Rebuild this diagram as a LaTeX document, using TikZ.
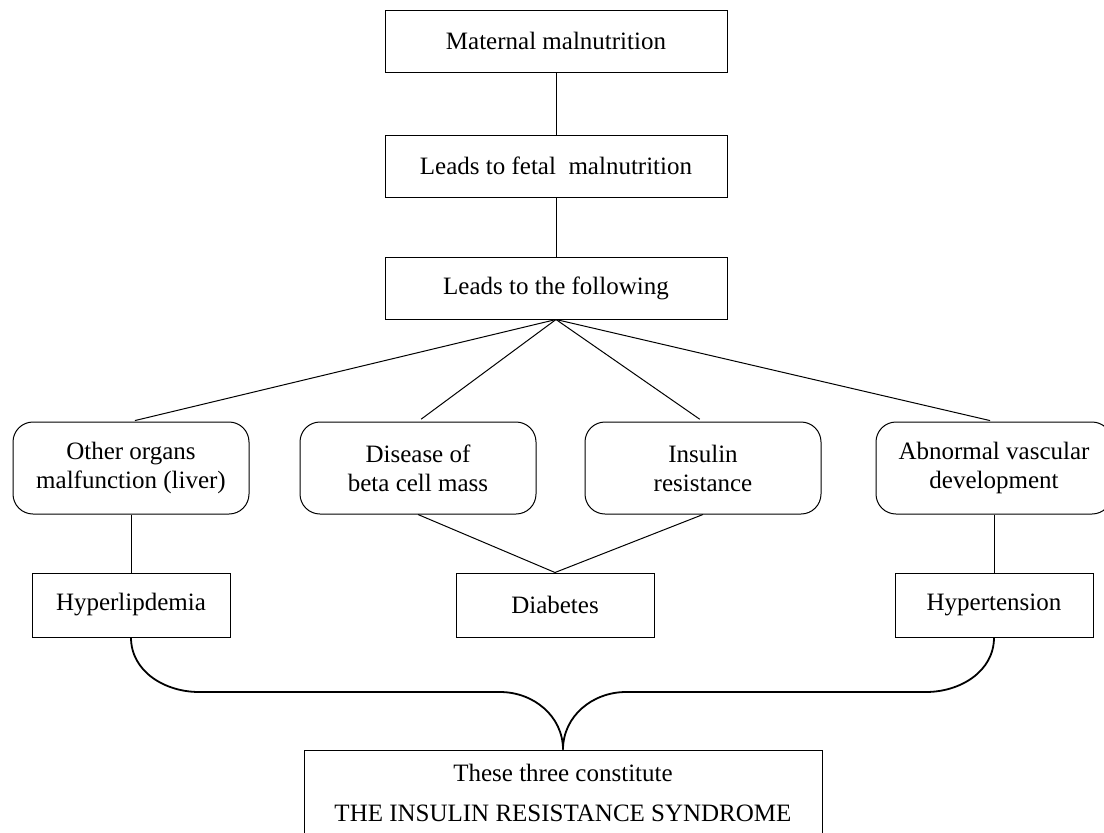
\documentclass[tikz,border=0pt]{standalone}
\usepackage{fontspec}
\setmainfont{Liberation Serif}
\begin{document}
\begin{tikzpicture}[x=1pt, y=-1pt,
    caixa/.style={draw, line width=1pt, minimum width=342pt, minimum height=62pt,
      inner sep=0pt, align=center, font=\fontsize{25}{29}\selectfont},
    arred/.style={caixa, rounded corners=20pt, minimum width=236pt, minimum height=92pt},
    efeito/.style={caixa, minimum width=198pt, minimum height=64pt},
    liga/.style={line width=1pt},
    chave/.style={line width=1.8pt}]
  \useasboundingbox (0,0) rectangle (1104,833);
  \clip (0,0) rectangle (1104,833);

  % Caixas
  \node[caixa] (mat) at (556,41) {Maternal malnutrition};
  \node[caixa] (fetal) at (556,166) {Leads to fetal\ \ malnutrition};
  \node[caixa] (follow) at (556,288) {Leads to the following};

  \node[arred] (other) at (131,468) {Other organs\\malfunction (liver)};
  \node[arred] (disease) at (418,468) {Disease of\\beta cell mass};
  \node[arred] (insulin) at (703,468) {Insulin\\resistance};
  \node[arred] (abnormal) at (994,468) {Abnormal vascular\\development};

  \node[efeito] (hyperlip) at (131,605) {Hyperlipdemia};
  \node[efeito] (diabetes) at (555,605) {Diabetes};
  \node[efeito] (hypert) at (994,605) {Hypertension};

  \node[caixa, minimum width=518pt, minimum height=86pt, font=\fontsize{25}{40}\selectfont]
    (syndrome) at (563,793) {These three constitute\\THE INSULIN RESISTANCE SYNDROME};

  % Pontos da chave
  \coordinate (bl) at (199,692);
  \coordinate (ml) at (500,692);
  \coordinate (mr) at (626,692);
  \coordinate (br) at (926,692);

  % Ligações
  \draw[liga] (mat) -- (fetal);
  \draw[liga] (fetal) -- (follow);
  \draw[liga, shorten >=4pt] (follow.south) -- (other.north);
  \draw[liga, shorten >=4pt] (follow.south) -- (disease.north);
  \draw[liga, shorten >=4pt] (follow.south) -- (insulin.north);
  \draw[liga, shorten >=4pt] (follow.south) -- (abnormal.north);
  \draw[liga] (other) -- (hyperlip);
  \draw[liga] (disease.south) -- (diabetes.north);
  \draw[liga] (insulin.south) -- (diabetes.north);
  \draw[liga] (abnormal) -- (hypert);

  % Chave
  \draw[chave] (hyperlip.south) to[out=-90, in=180] (bl) -- (ml) to[out=0, in=90] (syndrome.north);
  \draw[chave] (hypert.south) to[out=-90, in=0] (br) -- (mr) to[out=180, in=90] (syndrome.north);
\end{tikzpicture}
\end{document}
